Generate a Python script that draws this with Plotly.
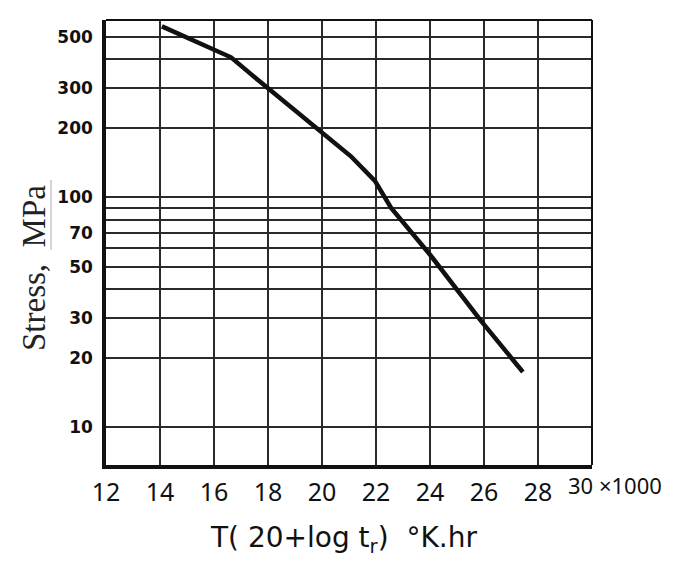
import plotly.graph_objects as go
import numpy as np

# Larson-Miller parameter (x1000) and stress (MPa)
lmp = [14.07, 16.63, 17.63, 19.96, 21.07, 21.96, 22.56, 24.04, 25.89, 27.44]
stress = [555, 407, 324, 194, 151, 118, 90, 55.6, 29.0, 17.4]

x_ticks = [12, 14, 16, 18, 20, 22, 24, 26, 28, 30]
x_ticktext = ["12", "14", "16", "18", "20", "22", "24", "26", "28", ""]
y_ticks = [10, 20, 30, 50, 70, 100, 200, 300, 500]
y_ticktext = ["10", "20", "30", "50", "70", "100", "200", "300", "500"]
y_minor = [40, 60, 80, 90, 400]

W, H = 674, 561
ml, mr, mt, mb = 98, 90, 12, 104
PW, PH = W - ml - mr, H - mt - mb

def px(x):
    return (x - ml) / PW

def py(y):
    return 1 - (y - mt) / PH

fig = go.Figure()
fig.add_trace(go.Scatter(
    x=lmp, y=stress, mode="lines",
    line=dict(color="#111111", width=4.5),
    showlegend=False, hoverinfo="skip",
))

fig.update_layout(
    width=W, height=H,
    margin=dict(l=ml, r=mr, t=mt, b=mb),
    paper_bgcolor="white", plot_bgcolor="white",
    xaxis=dict(
        range=[12, 30], tickvals=x_ticks, ticktext=x_ticktext,
        showgrid=True, gridcolor="#2a2a2a", gridwidth=1.6,
        showline=True, linecolor="#111111", linewidth=3.5,
        ticks="", zeroline=False, ticklabelstandoff=2,
        tickfont=dict(family="Noto Sans", size=25, color="#111111"),
    ),
    yaxis=dict(
        type="log", range=[np.log10(6.85), 2.772],
        tickvals=y_ticks, ticktext=y_ticktext,
        showgrid=True, gridcolor="#2a2a2a", gridwidth=1.6,
        minor=dict(tickvals=y_minor, showgrid=True, gridcolor="#2a2a2a", gridwidth=1.6, ticks=""),
        showline=True, linecolor="#111111", linewidth=3.5,
        ticks="", zeroline=False, ticklabelstandoff=6,
        tickfont=dict(family="DejaVu Sans", size=17, color="#111111", weight="bold"),
    ),
)

# top and right borders (thinner)
fig.add_shape(type="line", xref="paper", yref="paper", x0=0, x1=1, y0=1, y1=1,
              line=dict(color="#111111", width=2))
fig.add_shape(type="line", xref="paper", yref="paper", x0=1, x1=1, y0=0, y1=1,
              line=dict(color="#111111", width=2))

# "30 x1000" label
fig.add_annotation(x=30, y=0, xref="x", yref="paper", yanchor="top", xanchor="left",
                   xshift=-26, yshift=-3, showarrow=False,
                   text="30 \u00d71000",
                   font=dict(family="Noto Sans", size=22, color="#111111"))

# y-axis title
fig.add_annotation(x=px(26), y=py(260), xref="paper", yref="paper",
                   xanchor="center", yanchor="middle", textangle=-90, showarrow=False,
                   text="Stress,  MPa",
                   font=dict(family="Liberation Serif", size=33, color="#222222"))
fig.add_shape(type="line", xref="paper", yref="paper",
              x0=px(43), x1=px(43), y0=py(242), y1=py(172),
              line=dict(color="#aaaaaa", width=1))

# x-axis title
fig.add_annotation(x=px(335), y=py(531), xref="paper", yref="paper",
                   xanchor="center", yanchor="middle", showarrow=False,
                   text="T( 20+log t<sub>r</sub>)  \u00b0K.hr",
                   font=dict(family="DejaVu Sans", size=28, color="#111111"))

fig.write_html("out.html")
